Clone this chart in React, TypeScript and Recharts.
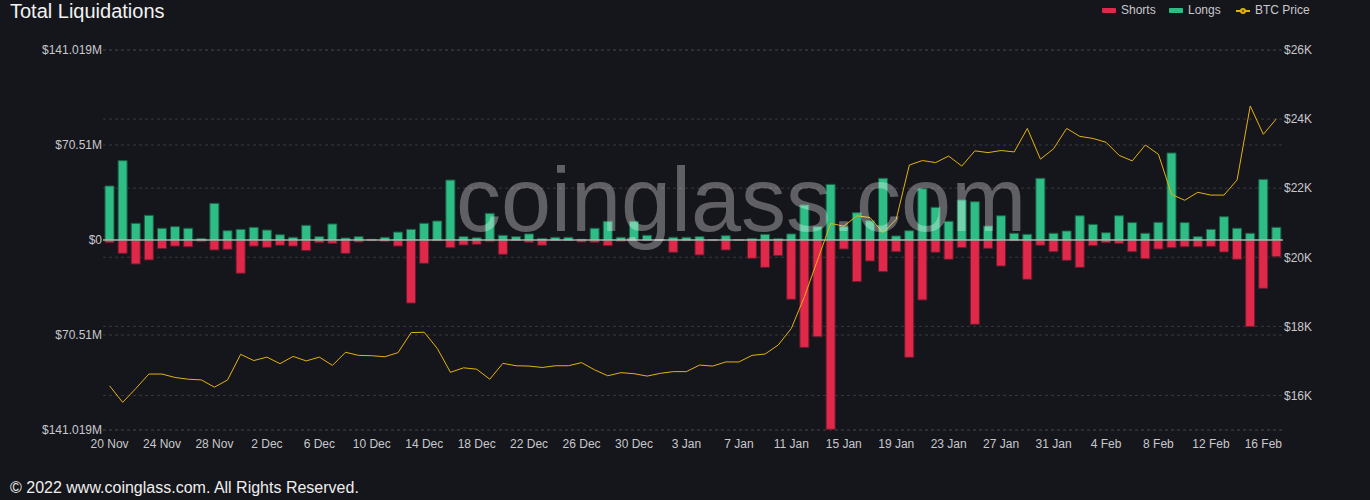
import React from 'react';
import { ComposedChart, Bar, Line, XAxis, YAxis, CartesianGrid, ReferenceLine } from 'recharts';

const dates = [
  '20 Nov', '21 Nov', '22 Nov', '23 Nov', '24 Nov', '25 Nov', '26 Nov', '27 Nov', '28 Nov', '29 Nov', '30 Nov',
  '1 Dec', '2 Dec', '3 Dec', '4 Dec', '5 Dec', '6 Dec', '7 Dec', '8 Dec', '9 Dec', '10 Dec',
  '11 Dec', '12 Dec', '13 Dec', '14 Dec', '15 Dec', '16 Dec', '17 Dec', '18 Dec', '19 Dec', '20 Dec',
  '21 Dec', '22 Dec', '23 Dec', '24 Dec', '25 Dec', '26 Dec', '27 Dec', '28 Dec', '29 Dec', '30 Dec', '31 Dec',
  '1 Jan', '2 Jan', '3 Jan', '4 Jan', '5 Jan', '6 Jan', '7 Jan', '8 Jan', '9 Jan', '10 Jan',
  '11 Jan', '12 Jan', '13 Jan', '14 Jan', '15 Jan', '16 Jan', '17 Jan', '18 Jan', '19 Jan', '20 Jan',
  '21 Jan', '22 Jan', '23 Jan', '24 Jan', '25 Jan', '26 Jan', '27 Jan', '28 Jan', '29 Jan', '30 Jan', '31 Jan',
  '1 Feb', '2 Feb', '3 Feb', '4 Feb', '5 Feb', '6 Feb', '7 Feb', '8 Feb', '9 Feb', '10 Feb',
  '11 Feb', '12 Feb', '13 Feb', '14 Feb', '15 Feb', '16 Feb', '17 Feb',
];

// Long liquidations, $M
const longs = [
  40.1, 58.9, 12.4, 18.3, 8.7, 9.9, 8.7, 1.2, 27.2, 6.9,
  7.9, 9.4, 7.4, 3.9, 2.0, 10.9, 2.5, 11.9, 1.5, 2.5,
  0.5, 2.0, 5.9, 7.9, 12.4, 14.1, 44.5, 2.5, 1.7, 19.8,
  3.5, 2.5, 4.5, 1.2, 2.0, 2.0, 0.5, 8.7, 13.9, 2.0,
  13.9, 3.5, 0.3, 2.0, 2.0, 2.5, 0.3, 3.2, 0.2, 1.2,
  4.2, 1.0, 4.5, 26.0, 9.9, 41.3, 9.9, 20.3, 14.3, 45.8,
  3.0, 6.9, 38.1, 24.3, 13.9, 29.7, 28.4, 10.4, 18.0, 5.0,
  4.2, 45.8, 5.0, 6.7, 18.0, 11.6, 5.4, 18.0, 12.9, 5.0,
  13.1, 64.6, 12.9, 2.5, 7.9, 17.3, 8.7, 5.0, 45.0, 9.4,
];

// Short liquidations, $M (drawn below zero)
const shorts = [
  2.0, 9.9, 17.8, 14.8, 6.4, 4.5, 5.0, 1.2, 7.4, 6.9,
  24.7, 4.5, 5.4, 3.9, 4.5, 7.9, 2.0, 2.5, 9.9, 1.5,
  0.5, 1.0, 4.5, 46.8, 17.3, 0.5, 5.7, 3.7, 3.2, 1.2,
  10.6, 0.3, 1.7, 3.9, 0.3, 0.3, 1.5, 1.7, 4.2, 1.0,
  0.3, 0.3, 0.3, 9.1, 0.5, 11.1, 0.5, 7.4, 0.2, 13.6,
  20.3, 11.6, 44.0, 79.7, 71.8, 140.5, 6.7, 30.9, 15.6, 23.5,
  8.7, 87.1, 44.5, 9.1, 14.3, 5.7, 62.6, 6.2, 19.3, 0.5,
  29.2, 3.9, 8.7, 15.1, 20.3, 4.2, 2.0, 2.5, 8.7, 13.9,
  6.7, 5.7, 5.0, 5.0, 4.7, 8.9, 14.3, 64.3, 35.9, 12.4,
];

// BTC price, $
const btcPrice = [
  16280, 15800, 16200, 16620, 16620, 16520, 16470, 16450, 16240, 16450,
  17190, 17010, 17110, 16920, 17130, 17000, 17110, 16870, 17250, 17160,
  17150, 17120, 17240, 17820, 17830, 17360, 16670, 16800, 16760, 16470,
  16930, 16860, 16850, 16810, 16860, 16860, 16950, 16740, 16570, 16660,
  16630, 16560, 16640, 16690, 16690, 16880, 16850, 16970, 16970, 17160,
  17200, 17460, 17940, 18860, 19920, 20980, 20900, 21200, 21150, 20710,
  21100, 22670, 22800, 22740, 22930, 22640, 23080, 23030, 23090, 23050,
  23730, 22840, 23140, 23730, 23500, 23440, 23330, 22950, 22790, 23250,
  22980, 21820, 21650, 21880, 21800, 21800, 22240, 24380, 23560, 24010,
];

const leftTicks = [-141.019, -70.51, 0, 70.51, 141.019];
const rightTicks = [16000, 18000, 20000, 22000, 24000, 26000];

const data = dates.map((d, i) => ({
  date: d,
  longs: longs[i],
  shorts: -shorts[i],
  price: btcPrice[i],
}));

const BG = '#15161b';
const GREEN = '#2ebd85';
const RED = '#e0294a';
const YELLOW = '#e5b10c';
const TEXT = '#c8c8cc';
const FONT = '"Liberation Sans", Arial, Helvetica, sans-serif';

export default function App() {
  return (
    <div
      style={{
        position: 'absolute',
        left: 0,
        top: 0,
        width: 1370,
        height: 500,
        background: BG,
        overflow: 'hidden',
        fontFamily: FONT,
      }}
    >
      <div style={{ position: 'absolute', left: 10, top: -1, fontSize: 20, lineHeight: '24px', color: '#f2f2f2' }}>
        Total Liquidations
      </div>

      <div style={{ position: 'absolute', left: 0, top: 0 }}>
        <ComposedChart
          width={1370}
          height={500}
          data={data}
          stackOffset="sign"
          barSize={9}
          margin={{ top: 50, right: 7, bottom: 40, left: 8 }}
          style={{ fontFamily: FONT }}
        >
          <CartesianGrid yAxisId="left" vertical={false} stroke="#37383e" strokeDasharray="3 3" />
          <CartesianGrid yAxisId="right" vertical={false} stroke="#37383e" strokeDasharray="3 3" />
          <XAxis
            dataKey="date"
            interval={3}
            tickLine={false}
            axisLine={false}
            tickSize={0}
            tickMargin={9}
            tick={{ fill: TEXT, fontSize: 12 }}
          />
          <YAxis
            yAxisId="left"
            orientation="left"
            width={95}
            domain={[-141.019, 141.019]}
            ticks={leftTicks}
            interval={0}
            allowDataOverflow
            tickLine={false}
            axisLine={false}
            tickSize={0}
            tickMargin={1}
            tick={{ fill: TEXT, fontSize: 12 }}
            tickFormatter={(v: number) => (v === 0 ? '$0' : `$${Math.abs(v)}M`)}
          />
          <YAxis
            yAxisId="right"
            orientation="right"
            width={80}
            domain={[15000, 26000]}
            ticks={rightTicks}
            interval={0}
            allowDataOverflow
            tickLine={false}
            axisLine={false}
            tickSize={0}
            tickMargin={1}
            tick={{ fill: TEXT, fontSize: 12 }}
            tickFormatter={(v: number) => `$${v / 1000}K`}
          />
          <Bar
            yAxisId="left"
            dataKey="shorts"
            name="Shorts"
            stackId="liq"
            fill={RED}
            stroke="#6a1b2c"
            strokeWidth={1}
            isAnimationActive={false}
          />
          <Bar
            yAxisId="left"
            dataKey="longs"
            name="Longs"
            stackId="liq"
            fill={GREEN}
            stroke="#1c5e46"
            strokeWidth={1}
            isAnimationActive={false}
          />
          <ReferenceLine yAxisId="left" y={0} stroke="#ececec" strokeWidth={1} />
          <Line
            yAxisId="right"
            dataKey="price"
            name="BTC Price"
            type="linear"
            stroke={YELLOW}
            strokeWidth={1}
            dot={false}
            isAnimationActive={false}
          />
        </ComposedChart>
      </div>

      <div
        style={{
          position: 'absolute',
          left: 741,
          top: 155,
          transform: 'translateX(-50%)',
          fontSize: 90,
          lineHeight: '90px',
          color: 'rgba(255,255,255,0.32)',
          whiteSpace: 'nowrap',
          pointerEvents: 'none',
        }}
      >
        coinglass.com
      </div>

      {/* Legend */}
      <div style={{ position: 'absolute', left: 1102, top: 8, width: 14, height: 5, background: RED, borderRadius: 1 }} />
      <div style={{ position: 'absolute', left: 1121, top: 3, fontSize: 12, lineHeight: '14px', color: TEXT }}>Shorts</div>
      <div style={{ position: 'absolute', left: 1169, top: 8, width: 14, height: 5, background: GREEN, borderRadius: 1 }} />
      <div style={{ position: 'absolute', left: 1188, top: 3, fontSize: 12, lineHeight: '14px', color: TEXT }}>Longs</div>
      <svg style={{ position: 'absolute', left: 1235, top: 4 }} width={16} height={14}>
        <line x1={1} y1={7} x2={15} y2={7} stroke={YELLOW} strokeWidth={2} />
        <circle cx={8} cy={7} r={3} fill={YELLOW} />
        <circle cx={8} cy={7} r={1.2} fill="#7a5e10" />
      </svg>
      <div style={{ position: 'absolute', left: 1255, top: 3, fontSize: 12, lineHeight: '14px', color: TEXT }}>BTC Price</div>

      <div style={{ position: 'absolute', left: 10, top: 478, fontSize: 16, lineHeight: '20px', color: '#eeeeee' }}>
        © 2022 www.coinglass.com. All Rights Reserved.
      </div>
    </div>
  );
}
